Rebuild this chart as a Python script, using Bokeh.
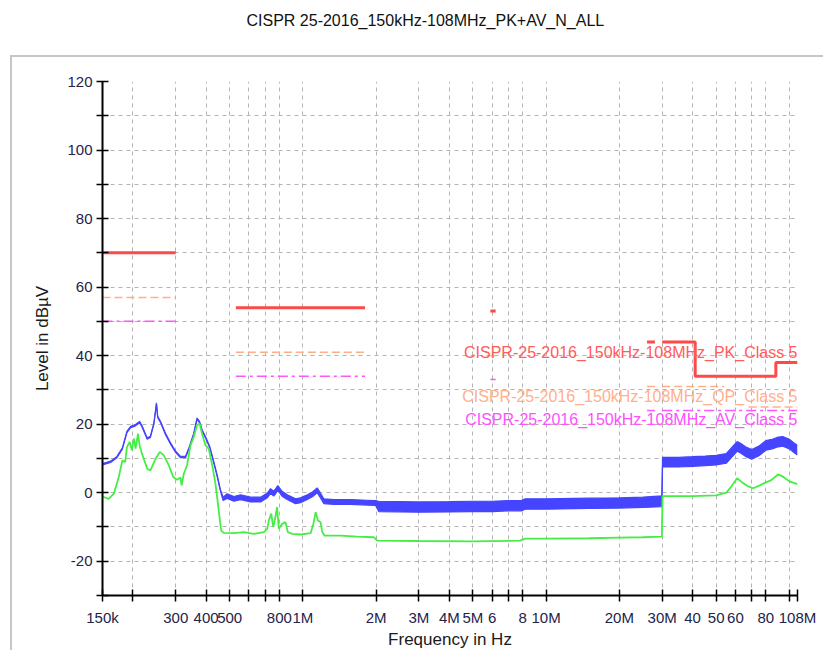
from bokeh.plotting import figure
from bokeh.models import Range1d, FixedTicker, Label, Title
from bokeh.embed import file_html
from bokeh.resources import INLINE

TITLE = "CISPR 25-2016_150kHz-108MHz_PK+AV_N_ALL"

# Axis ticks
x_ticks = [150_000, 200_000, 300_000, 400_000, 500_000, 600_000, 700_000, 800_000,
           1_000_000, 2_000_000, 3_000_000, 4_000_000, 5_000_000, 6_000_000, 7_000_000,
           8_000_000, 10_000_000, 20_000_000, 30_000_000, 40_000_000, 50_000_000,
           60_000_000, 70_000_000, 80_000_000, 100_000_000, 108_000_000]
x_tick_labels = ["150k", "", "300", "400", "500", "", "", "800",
                 "1M", "2M", "3M", "4M", "5M", "6", "",
                 "8", "10M", "20M", "30M", "40", "50",
                 "60", "", "80", "", "108M"]
y_ticks = [-30, -20, -10, 0, 10, 20, 30, 40, 50, 60, 70, 80, 90, 100, 110, 120]
y_tick_labels = ["", "-20", "", "0", "", "20", "", "40", "", "60", "", "80", "", "100", "", "120"]

# Limit lines: (start Hz, stop Hz, level dBuV)
pk_limits = [(150e3, 300e3, 70), (530e3, 1.8e6, 54), (5.9e6, 6.2e6, 53), (26e6, 28e6, 44),
             (30e6, 41e6, 44), (41e6, 88e6, 34), (88e6, 108e6, 38)]
qp_limits = [(150e3, 300e3, 57), (530e3, 1.8e6, 41), (5.9e6, 6.2e6, 40), (26e6, 28e6, 31),
             (30e6, 54e6, 31), (68e6, 108e6, 25)]
av_limits = [(150e3, 300e3, 50), (530e3, 1.8e6, 34), (5.9e6, 6.2e6, 33), (26e6, 28e6, 24),
             (30e6, 108e6, 24)]

# Peak trace: frequency, level, half-width of the noise band
pk_freq = [150e3, 162e3, 172e3, 181e3, 189e3, 196e3, 205e3, 213e3, 218e3, 229e3, 236e3, 244e3,
           250e3, 253e3, 260e3, 272e3, 286e3, 300e3, 314e3, 329e3, 340e3, 356e3, 367e3, 376e3,
           385e3, 400e3, 414e3, 430e3, 444e3, 458e3, 470e3,
           488e3, 520e3, 554e3, 609e3, 670e3, 714e3, 736e3, 759e3, 789e3, 821e3, 862e3, 933e3,
           978e3, 1.043e6, 1.094e6, 1.145e6, 1.174e6, 1.219e6, 1.34e6, 1.569e6, 1.839e6, 1.99e6,
           2.05e6, 3e6, 4e6, 5e6, 6e6, 7e6, 7.9e6, 8.2e6, 10e6, 15e6, 20e6, 25e6, 29.9e6,
           30.1e6, 35e6, 40e6, 45e6, 50e6, 55e6, 58e6, 61e6, 63e6, 66e6, 70e6, 75e6, 80e6,
           85e6, 90e6, 94e6, 100e6, 105e6, 108e6]
pk_level = [8.3, 9.0, 10.4, 12.9, 17.7, 19.2, 19.7, 20.6, 19.4, 15.8, 16.3, 20.2,
            26.0, 22.1, 20.6, 17.2, 14.3, 11.9, 10.4, 10.4, 12.9, 17.2, 21.6, 20.6,
            18.2, 15.8, 13.3, 8.9, 5.0, 0.7, -1.8,
            -1.0, -1.8, -1.3, -2.0, -2.0, -0.8, 0.5, -0.3, 1.4, -0.3, -1.3, -2.5,
            -2.2, -1.3, -0.5, 0.7, -0.5, -2.5, -2.7, -2.7, -2.9, -3.0,
            -4.0, -4.2, -4.1, -4.0, -4.0, -3.8, -3.8, -3.3, -3.3, -3.1, -3.0, -2.8, -2.5,
            8.9, 8.9, 9.1, 9.3, 9.5, 10.0, 11.8, 13.5, 13.0, 12.0, 11.2, 12.2, 13.8,
            14.2, 14.8, 15.0, 14.2, 13.0, 12.4]
pk_spread = [0.2] * 30 + [0.5] + \
            [0.7] * 22 + \
            [1.5] * 12 + [1.6] + \
            [1.4] * 19

# Average trace
av_freq = [150e3, 159e3, 167e3, 175e3, 181e3, 186e3, 189e3, 194e3, 198e3, 202e3, 205e3, 210e3,
           213e3, 218e3, 229e3, 236e3, 248e3, 258e3, 268e3, 281e3, 293e3, 304e3, 314e3, 317e3,
           324e3, 334e3, 345e3, 356e3, 367e3, 376e3, 385e3, 398e3, 410e3, 424e3, 437e3, 444e3,
           455e3, 461e3, 472e3, 520e3, 572e3, 629e3, 691e3, 714e3, 724e3, 741e3, 755e3, 771e3,
           783e3, 796e3, 821e3, 848e3, 867e3, 904e3, 978e3, 1.076e6, 1.104e6, 1.128e6, 1.153e6,
           1.182e6, 1.201e6, 1.227e6, 1.428e6, 1.673e6, 1.96e6, 2.02e6, 3e6, 5e6, 7.8e6, 8.2e6,
           10e6, 15e6, 20e6, 25e6, 29.9e6, 30.1e6, 40e6, 50e6, 55e6, 58e6, 61e6, 64e6, 67e6,
           71e6, 76e6, 80e6, 84e6, 90e6, 94e6, 100e6, 108e6]
av_level = [-1.1, -1.8, -0.3, 4.6, 9.4, 9.0, 13.3, 14.8, 12.4, 15.8, 12.9, 17.2,
            13.8, 11.4, 7.0, 6.5, 9.9, 11.9, 10.9, 8.0, 4.6, 3.8, 4.4, 2.1,
            5.6, 8.0, 13.8, 16.3, 19.7, 20.2, 17.2, 13.8, 12.9, 8.0, 2.6, -1.3,
            -7.6, -11.0, -11.7, -11.8, -11.5, -12.0, -11.5, -10.5, -8.1, -6.1, -10.0, -7.1,
            -4.2, -10.5, -9.1, -8.6, -11.5, -12.0, -12.2, -11.8, -9.1, -5.7, -8.1,
            -8.6, -11.5, -12.5, -12.5, -12.8, -13.0, -14.0, -14.1, -14.2, -14.0, -13.4,
            -13.4, -13.3, -13.1, -13.0, -12.8, -1.0, -1.0, -0.8, 0.0, 2.0, 4.2, 3.0, 2.0,
            1.3, 2.2, 3.0, 3.6, 5.4, 4.7, 3.3, 2.5]

limit_names = ["CISPR-25-2016_150kHz-108MHz_PK_Class 5",
               "CISPR-25-2016_150kHz-108MHz_QP_Class 5",
               "CISPR-25-2016_150kHz-108MHz_AV_Class 5"]

FONT = "'Liberation Sans', Arial, sans-serif"
TICK_COLOR = "#23234a"
PANEL_GRAY = "#c6c6c6"
F_MIN, F_MAX = 150e3, 108e6
L_MIN, L_MAX = -30, 120

p = figure(frame_width=695, frame_height=514,
           min_border_left=102, min_border_right=26, min_border_top=81, min_border_bottom=55,
           x_axis_type="log", x_range=Range1d(F_MIN, F_MAX), y_range=Range1d(L_MIN, L_MAX),
           output_backend="svg", toolbar_location=None,
           x_axis_label="Frequency in Hz", y_axis_label="Level in dB\u00b5V")
p.outline_line_color = None
p.background_fill_color = "white"
p.border_fill_color = None

# light gray panel edge (left and top) behind the transparent canvas border
p.styles = {
    "background-color": "white",
    "background-image": f"linear-gradient({PANEL_GRAY}, {PANEL_GRAY}), "
                        f"linear-gradient({PANEL_GRAY}, {PANEL_GRAY})",
    "background-size": "2px 100%, 100% 2px",
    "background-position": "10px 55px, 10px 55px",
    "background-repeat": "no-repeat",
}

# empty spacer next to the frame, then the chart title above it
p.add_layout(Title(text=" ", text_font_size="2px", standoff=42), "above")
p.add_layout(Title(text=TITLE, align="left", offset=144, standoff=13,
                   text_font=FONT, text_font_size="16px", text_font_style="normal",
                   text_color="#111111"), "above")

p.xaxis.ticker = FixedTicker(ticks=x_ticks)
p.xaxis.major_label_overrides = dict(zip(x_ticks, x_tick_labels))
p.yaxis.ticker = FixedTicker(ticks=y_ticks)
p.yaxis.major_label_overrides = dict(zip(y_ticks, y_tick_labels))

for ax in (p.xaxis[0], p.yaxis[0]):
    ax.axis_line_color = "black"
    ax.axis_line_width = 2
    ax.major_tick_line_color = "black"
    ax.major_tick_line_width = 1.5
    ax.major_tick_in = 6
    ax.major_tick_out = 6
    ax.minor_tick_line_color = None
    ax.major_label_text_font = FONT
    ax.major_label_text_font_size = "15px"
    ax.major_label_text_color = TICK_COLOR
    ax.axis_label_text_font = FONT
    ax.axis_label_text_font_size = "17px"
    ax.axis_label_text_font_style = "normal"
    ax.axis_label_text_color = "#1a1a1a"
p.xaxis.major_label_standoff = 7
p.xaxis.axis_label_standoff = 1
p.yaxis.major_label_standoff = 4
p.yaxis.axis_label_standoff = 12
p.yaxis.major_label_orientation = "horizontal"

for g in (p.xgrid, p.ygrid):
    g.grid_line_color = "#b4b4b4"
    g.grid_line_dash = "4 4"
    g.grid_line_width = 1


def limit_path(segments):
    xs, ys = [], []
    prev_stop = None
    for start, stop, level in segments:
        if prev_stop is not None and start != prev_stop:
            xs.append(float("nan"))
            ys.append(float("nan"))
        xs += [start, stop]
        ys += [level, level]
        prev_stop = stop
    return xs, ys


# measured traces
pk_hi = [v + s for v, s in zip(pk_level, pk_spread)]
pk_lo = [v - s for v, s in zip(pk_level, pk_spread)]
BLUE = "#4545ff"
GREEN = "#45ee45"
p.varea(x=pk_freq, y1=pk_lo, y2=pk_hi, fill_color=BLUE)
p.line(pk_freq, pk_hi, line_color=BLUE, line_width=1.2)
p.line(pk_freq, pk_lo, line_color=BLUE, line_width=1.2)
p.line(av_freq, av_level, line_color=GREEN, line_width=1.8)

# limit lines
xs, ys = limit_path(qp_limits)
p.line(xs, ys, line_color="#ffb088", line_width=1.5, line_dash="8 4")
xs, ys = limit_path(av_limits)
p.line(xs, ys, line_color="#ff55ff", line_width=1.5, line_dash="10 4 3 4")
xs, ys = limit_path(pk_limits)
p.line(xs, ys, line_color="#ff4848", line_width=3)

label_colors = ["#ff5c5c", "#ffb08e", "#ff50ff"]
label_levels = [41, 28, 21.3]
for name, col, lvl in zip(limit_names, label_colors, label_levels):
    p.add_layout(Label(x=F_MAX, y=lvl, text=name, text_align="right", text_baseline="middle",
                       text_font=FONT, text_font_size="16px", text_color=col))

open("out.html", "w").write(file_html(p, INLINE))
